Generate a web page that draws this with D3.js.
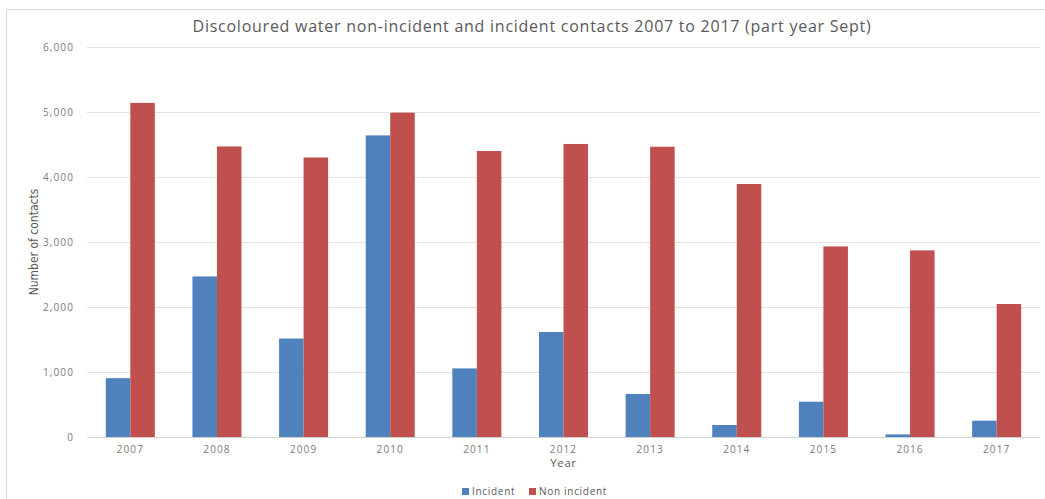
<!DOCTYPE html>
<html>
<head>
<meta charset="utf-8">
<script src="https://cdn.jsdelivr.net/npm/d3@7"></script>
<style>
  html, body { margin: 0; padding: 0; background: #fff; }
  svg { display: block; }
</style>
</head>
<body>
<svg id="chart" width="1045" height="499"></svg>
<script>
// Discoloured water contacts per year, split by incident / non-incident
const years = ["2007", "2008", "2009", "2010", "2011", "2012", "2013", "2014", "2015", "2016", "2017"];
const incident = [905, 2470, 1515, 4640, 1055, 1615, 662, 185, 543, 40, 251];
const nonIncident = [5140, 4470, 4300, 4990, 4400, 4508, 4466, 3892, 2932, 2871, 2046];
const seriesNames = ["Incident", "Non incident"];
const yTicks = [0, 1000, 2000, 3000, 4000, 5000, 6000];

const colors = ["#4F81BD", "#C0504D"];
const textGrey = "#595959";
const tickGrey = "#7a7a7a";
const gridGrey = "#e3e3e3";
const font = "'Open Sans', 'Liberation Sans', sans-serif";

const svg = d3.select("#chart");
const W = 1045, H = 499;
const m = { left: 87, right: 5, top: 47, bottom: 62 };
const plotBottom = 437;
const plotCenter = (m.left + W - m.right) / 2;

// outer chart frame (top and left edges visible)
svg.append("path")
  .attr("d", `M6.5,${H} L6.5,9.5 L${W},9.5`)
  .attr("fill", "none")
  .attr("stroke", "#d9d9d9")
  .attr("stroke-width", 1);

const x = d3.scaleBand()
  .domain(years)
  .range([m.left, W - m.right])
  .paddingInner(0.434)
  .paddingOuter(0.217);

const xSub = d3.scaleBand()
  .domain(seriesNames)
  .range([0, x.bandwidth()]);

const y = d3.scaleLinear()
  .domain([0, 6000])
  .range([plotBottom, m.top]);

// gridlines
svg.append("g")
  .selectAll("line")
  .data(yTicks.filter(d => d > 0))
  .join("line")
  .attr("x1", m.left)
  .attr("x2", W - m.right)
  .attr("y1", d => Math.round(y(d)) + 0.5)
  .attr("y2", d => Math.round(y(d)) + 0.5)
  .attr("stroke", gridGrey)
  .attr("stroke-width", 1);

// y axis labels
const yAxis = d3.axisLeft(y)
  .tickValues(yTicks)
  .tickFormat(d3.format(","))
  .tickSize(0)
  .tickPadding(13);

svg.append("g")
  .attr("transform", `translate(${m.left},0)`)
  .call(yAxis)
  .call(g => g.select(".domain").remove())
  .call(g => g.selectAll("text")
    .attr("fill", tickGrey)
    .attr("font-family", font)
    .attr("font-size", 10)
    .attr("letter-spacing", 1.1));

// bars
const rows = years.map((yr, i) => ({ year: yr, values: [incident[i], nonIncident[i]] }));

const groups = svg.append("g")
  .selectAll("g")
  .data(rows)
  .join("g")
  .attr("transform", d => `translate(${x(d.year)},0)`);

groups.selectAll("rect")
  .data(d => d.values.map((v, k) => ({ name: seriesNames[k], value: v, k })))
  .join("rect")
  .attr("x", d => xSub(d.name))
  .attr("width", xSub.bandwidth())
  .attr("y", d => y(d.value))
  .attr("height", d => y(0) - y(d.value))
  .attr("fill", d => colors[d.k]);

// baseline and x axis labels
const xAxis = d3.axisBottom(x).tickSize(0).tickPadding(9);
svg.append("g")
  .attr("transform", `translate(0,${plotBottom})`)
  .call(xAxis)
  .call(g => g.select(".domain")
    .attr("stroke", "#d0d0d0")
    .attr("d", `M${m.left},0.5H${W - m.right}`))
  .call(g => g.selectAll("text")
    .attr("fill", tickGrey)
    .attr("font-family", font)
    .attr("font-size", 10)
    .attr("letter-spacing", 1.1));

// title
svg.append("text")
  .attr("x", 532)
  .attr("y", 32)
  .attr("text-anchor", "middle")
  .attr("fill", textGrey)
  .attr("font-family", font)
  .attr("font-size", 16)
  .attr("letter-spacing", 0.75)
  .text("Discoloured water non-incident and incident contacts 2007 to 2017 (part year Sept)");

// axis titles
svg.append("text")
  .attr("x", plotCenter)
  .attr("y", 467)
  .attr("text-anchor", "middle")
  .attr("fill", textGrey)
  .attr("font-family", font)
  .attr("font-size", 11.5)
  .attr("letter-spacing", 0.6)
  .text("Year");

svg.append("text")
  .attr("transform", "translate(38,242) rotate(-90)")
  .attr("text-anchor", "middle")
  .attr("fill", textGrey)
  .attr("font-family", "'Liberation Sans Narrow', 'DejaVu Sans Condensed', sans-serif")
  .attr("font-size", 12)
  .text("Number of contacts");

// legend
const legendItems = [
  { name: seriesNames[0], color: colors[0], x: 462 },
  { name: seriesNames[1], color: colors[1], x: 529 }
];
const legend = svg.append("g");
legend.selectAll("rect")
  .data(legendItems)
  .join("rect")
  .attr("x", d => d.x)
  .attr("y", 488)
  .attr("width", 7)
  .attr("height", 7)
  .attr("fill", d => d.color);
legend.selectAll("text")
  .data(legendItems)
  .join("text")
  .attr("x", d => d.x + 10)
  .attr("y", 495)
  .attr("fill", textGrey)
  .attr("font-family", font)
  .attr("font-size", 10)
  .attr("letter-spacing", 0.7)
  .text(d => d.name);
</script>
</body>
</html>
